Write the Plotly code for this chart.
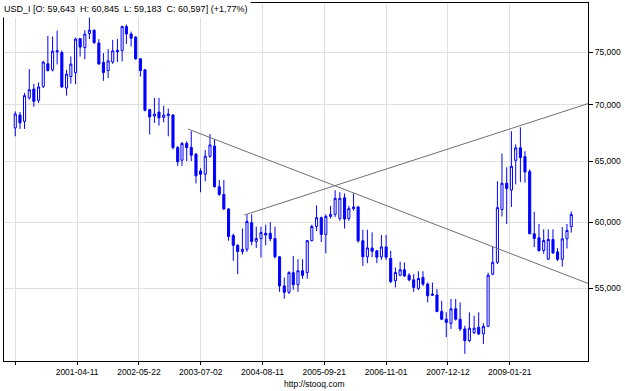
import math
import pandas as pd
import plotly.graph_objects as go

# Monthly candles, March 2000 .. March 2010
dates = pd.date_range("2000-03-01", periods=121, freq="MS")

opens = [67900, 69060, 68490, 70630, 71460, 70405, 71700, 73860, 73280, 75150,
         74965, 71550, 72640, 73000, 76350, 75450, 76850, 77200, 75900, 74000,
         73210, 74030, 75180, 75160, 77560, 76810, 76490, 74350, 73280, 69550,
         68970, 69330, 68850, 69000, 69060, 66180, 65080, 66530, 66170, 65600,
         64170, 63890, 65420, 66300, 62850, 62220, 61050, 58950, 58200, 57730,
         57900, 59950, 58500, 58720, 59130, 59130, 58720, 57330, 55180, 54720,
         56150, 55270, 56290, 56150, 58560, 59660, 60350, 59040, 60450, 60620,
         60300, 61950, 60290, 61070, 61200, 58550, 57330, 58000, 57780, 57320,
         58080, 57200, 55550, 55960, 56360, 55960, 55620, 55000, 55800, 55310,
         54590, 54520, 53360, 52820, 52530, 53550, 52820, 52150, 51360, 51900,
         52260, 51810, 52330, 56040, 56920, 61000, 63140, 62580, 65070, 66150,
         65390, 64120, 59090, 58780, 57810, 57150, 58650, 57700, 57140, 58700,
         59643]
highs = [69390, 69330, 71090, 73350, 71950, 72080, 74150, 76620, 76550, 77150,
         75160, 73280, 74570, 76450, 76400, 77200, 78600, 77250, 76290, 74900,
         75300, 76220, 76300, 77660, 77760, 77050, 76600, 74400, 73350, 69600,
         70630, 70630, 69900, 69650, 69150, 66300, 66650, 66720, 67600, 65700,
         64400, 65950, 67350, 66870, 63400, 63400, 61100, 59100, 58300, 59500,
         60620, 60620, 59650, 59650, 59800, 60000, 59650, 57400, 55800, 56250,
         57400, 57150, 57150, 58600, 59800, 61330, 60440, 60620, 61300, 62570,
         62400, 62300, 61300, 62300, 61300, 59400, 59400, 59200, 57850, 59000,
         59000, 57770, 56540, 56960, 56910, 56110, 56040, 56250, 56250, 55430,
         55430, 54950, 54110, 53300, 54240, 54240, 54000, 52370, 53300, 53060,
         53300, 52550, 56150, 58080, 63310, 65650, 64480, 67600, 66450, 67950,
         65850, 64300, 60830, 59860, 59440, 59440, 59440, 57980, 59610, 59860,
         60845]
lows = [67160, 67810, 67810, 70470, 69800, 70160, 71550, 73120, 73120, 73800,
        71550, 70840, 71950, 71900, 74570, 74300, 76300, 75800, 73760, 72230,
        72490, 73860, 74030, 74090, 75820, 75570, 74250, 72640, 69390, 67310,
        68350, 68100, 68400, 67150, 66000, 64600, 64600, 65000, 65000, 63120,
        62400, 63300, 65300, 62800, 62100, 60950, 58550, 57030, 56040, 57500,
        57700, 58200, 58000, 57280, 58200, 58500, 57200, 54750, 54260, 54600,
        54900, 54750, 55700, 55700, 58500, 59300, 58450, 57600, 60300, 60400,
        60100, 59500, 60100, 60900, 58400, 56650, 56850, 57300, 56850, 57100,
        57100, 55380, 55070, 55890, 55820, 55520, 54750, 54880, 55170, 54000,
        54450, 53300, 52760, 51590, 52150, 52720, 52010, 50470, 51250, 51800,
        51740, 51140, 52280, 55960, 56790, 60450, 59860, 61210, 63050, 63250,
        63200, 59050, 58060, 57700, 57560, 57090, 57560, 57010, 56590, 57960,
        59183]
closes = [69160, 68350, 70840, 71395, 70310, 71650, 74030, 73210, 75100, 75050,
          71650, 72870, 73830, 76300, 75500, 76800, 77200, 75950, 73850, 73020,
          74150, 75130, 75050, 77560, 76810, 76390, 74350, 73210, 69490, 68890,
          69150, 68800, 69050, 69150, 66180, 64950, 66530, 66170, 65510, 63760,
          63890, 65420, 66400, 62850, 62220, 61050, 58870, 58200, 57730, 57900,
          60050, 58500, 58720, 59180, 59000, 58700, 57330, 55180, 54720, 56150,
          55270, 56290, 55950, 58560, 59660, 60350, 59040, 60450, 60620, 61900,
          61900, 60240, 61070, 61200, 58550, 57330, 58000, 57750, 57300, 58080,
          57300, 55500, 56160, 56360, 55910, 55620, 55070, 55720, 55310, 54470,
          54520, 53360, 52820, 52600, 53550, 52820, 52150, 51360, 52200, 52200,
          51810, 52330, 55960, 56920, 61150, 63140, 62700, 64560, 66150, 65310,
          64080, 59090, 58730, 57810, 58570, 58650, 57620, 57140, 58700, 59350,
          60597]

# Trend lines (date, value at each end)
line1_dates = ["2003-04-10", "2010-06-19"]
line1_values = [67800, 55360]
line2_dates = ["2004-04-13", "2010-06-19"]
line2_values = [60560, 70100]

x_tickvals = ["2000-03-01", "2001-04-11", "2002-05-22", "2003-07-02", "2004-08-11",
              "2005-09-21", "2006-11-01", "2007-12-12", "2009-01-21"]
x_ticktext = ["", "2001-04-11", "2002-05-22", "2003-07-02", "2004-08-11",
              "2005-09-21", "2006-11-01", "2007-12-12", "2009-01-21"]
y_tickvals = [55000, 60000, 65000, 70000, 75000]
y_ticktext = ["55,000", "60,000", "65,000", "70,000", "75,000"]

title_text = "USD_I [O: 59,643  H: 60,845  L: 59,183  C: 60,597] (+1,77%)"
footer_text = "http://stooq.com"

FONT = "Liberation Sans, Arial, sans-serif"
BLUE = "#0000ff"
GRID = "#e0e0e0"

fig = go.Figure()
fig.add_trace(go.Candlestick(
    x=dates, open=opens, high=highs, low=lows, close=closes,
    increasing=dict(line=dict(color=BLUE, width=1), fillcolor="white"),
    decreasing=dict(line=dict(color=BLUE, width=1), fillcolor=BLUE),
    whiskerwidth=0, showlegend=False, hoverinfo="skip",
))
fig.add_trace(go.Scatter(x=line1_dates, y=line1_values, mode="lines",
                         line=dict(color="#707070", width=1), showlegend=False,
                         hoverinfo="skip", cliponaxis=True))
fig.add_trace(go.Scatter(x=line2_dates, y=line2_values, mode="lines",
                         line=dict(color="#707070", width=1), showlegend=False,
                         hoverinfo="skip", cliponaxis=True))

fig.update_layout(
    width=625, height=391,
    margin=dict(l=4, r=37, t=3, b=30, pad=0),
    paper_bgcolor="white", plot_bgcolor="white",
    font=dict(family=FONT, size=8.5, color="black"),
    boxgap=0.3,
    xaxis=dict(
        type="date", range=["1999-12-18", "2010-06-19"],
        tickmode="array", tickvals=x_tickvals, ticktext=x_ticktext,
        showgrid=True, gridcolor=GRID, gridwidth=1,
        showline=True, linecolor="black", linewidth=1, mirror=True,
        ticks="outside", ticklen=3, tickcolor="black",
        rangeslider=dict(visible=False), zeroline=False,
        tickfont=dict(family=FONT, size=8.5, color="black"),
    ),
    yaxis=dict(
        type="log", range=[math.log10(50000), math.log10(80000)],
        side="right", tickmode="array", tickvals=y_tickvals, ticktext=y_ticktext,
        showgrid=True, gridcolor=GRID, gridwidth=1,
        showline=True, linecolor="black", linewidth=1, mirror=True,
        ticks="outside", ticklen=4, tickcolor="black", zeroline=False,
        tickfont=dict(family=FONT, size=8.5, color="black"),
    ),
    annotations=[
        dict(text=title_text, xref="paper", yref="paper", x=0, y=1,
             xanchor="left", yanchor="top", showarrow=False,
             xshift=-4, yshift=3, bgcolor="white", borderpad=3,
             font=dict(family=FONT, size=9, color="black")),
        dict(text=footer_text, xref="paper", yref="paper", x=0.53, y=-0.064,
             xanchor="center", yanchor="middle", showarrow=False,
             font=dict(family=FONT, size=8.5, color="black")),
    ],
)

fig.write_html("out.html")
